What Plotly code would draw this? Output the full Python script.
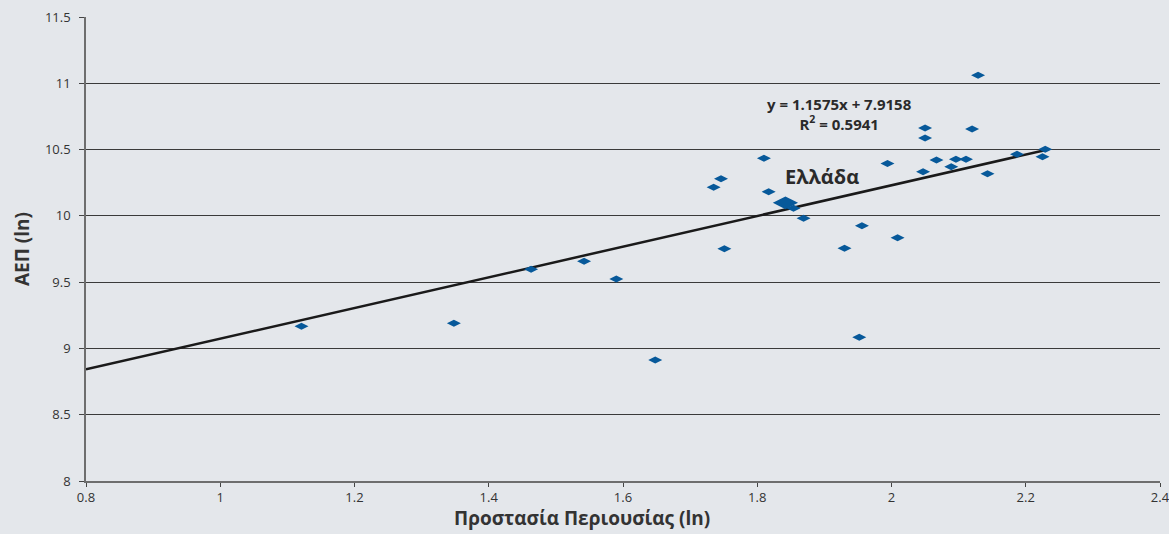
import plotly.graph_objects as go

# Data: property protection (ln) vs GDP (ln)
x_vals = [1.121, 1.348, 1.463, 1.542, 1.590, 1.648, 1.735, 1.746, 1.751, 1.810,
          1.817, 1.854, 1.869, 1.930, 1.952, 1.956, 1.994, 2.009, 2.047, 2.050,
          2.050, 2.067, 2.089, 2.096, 2.111, 2.120, 2.129, 2.143, 2.187, 2.225, 2.229]
y_vals = [9.167, 9.190, 9.597, 9.657, 9.524, 8.913, 10.215, 10.280, 9.752, 10.434,
          10.182, 10.057, 9.982, 9.755, 9.084, 9.926, 10.394, 9.835, 10.333, 10.663,
          10.587, 10.421, 10.371, 10.427, 10.427, 10.655, 11.060, 10.318, 10.464, 10.446, 10.502]

greece_x = [1.842]
greece_y = [10.098]
greece_label = "Ελλάδα"

slope = 1.1575
intercept = 7.9158
r2 = 0.5941
trend_x = [0.8, 2.23]
trend_y = [slope * v + intercept for v in trend_x]

x_ticks = [0.8, 1.0, 1.2, 1.4, 1.6, 1.8, 2.0, 2.2, 2.4]
y_ticks = [8, 8.5, 9, 9.5, 10, 10.5, 11, 11.5]

x_title = "Προστασία Περιουσίας (ln)"
y_title = "ΑΕΠ (ln)"

bg = "#e4e7eb"
marker_color = "#07599a"
font_family = "Open Sans, Noto Sans, sans-serif"

fig = go.Figure()

fig.add_trace(go.Scatter(
    x=trend_x, y=trend_y, mode="lines",
    line=dict(color="#1a1a1a", width=2.5),
    hoverinfo="skip", showlegend=False,
))

fig.add_trace(go.Scatter(
    x=x_vals, y=y_vals, mode="markers",
    marker=dict(symbol="diamond-wide", size=10, color=marker_color, line=dict(width=0)),
    showlegend=False,
))

fig.add_trace(go.Scatter(
    x=greece_x, y=greece_y, mode="markers",
    marker=dict(symbol="diamond-wide", size=18, color=marker_color, line=dict(width=0)),
    showlegend=False,
))

fig.add_annotation(
    x=greece_x[0], y=greece_y[0], xref="x", yref="y",
    text="<b>" + greece_label + "</b>", showarrow=False,
    xshift=-2, yshift=26, xanchor="left", yanchor="middle",
    font=dict(family=font_family, size=20, color="#2a2a2a"),
)

fig.add_annotation(
    x=1.923, y=10.768, xref="x", yref="y",
    text="<b>y = %.4fx + %.4f</b><br><b>R<sup>2</sup> = %.4f</b>" % (slope, intercept, r2),
    showarrow=False, align="center",
    font=dict(family=font_family, size=15, color="#2a2a2a"),
)

# axis titles
fig.add_annotation(
    x=0.4618, y=0, xref="paper", yref="paper",
    text="<b>" + x_title + "</b>", showarrow=False,
    xanchor="center", yanchor="middle", yshift=-37,
    font=dict(family=font_family, size=19, color="#333333"),
)
fig.add_annotation(
    x=0, y=0.5, xref="paper", yref="paper",
    text="<b>" + y_title + "</b>", showarrow=False, textangle=-90,
    xanchor="center", yanchor="middle", xshift=-64,
    font=dict(family=font_family, size=19, color="#333333"),
)

fig.update_layout(
    width=1169, height=534,
    paper_bgcolor=bg, plot_bgcolor=bg,
    margin=dict(l=86, r=9, t=17, b=53, autoexpand=False),
    font=dict(family=font_family, size=13, color="#333333"),
    xaxis=dict(
        range=[0.8, 2.4], tickvals=x_ticks,
        ticktext=[("%g" % v) for v in x_ticks],
        automargin=False, ticklabeloverflow="allow",
        showgrid=False, zeroline=False,
        showline=True, linecolor="#6e6e6e", linewidth=1.5,
        ticks="outside", ticklen=4, tickcolor="#444444",
        tickfont=dict(size=13, color="#333333"),
    ),
    yaxis=dict(
        range=[8, 11.5], tickvals=y_ticks,
        ticktext=[("%g" % v) for v in y_ticks],
        automargin=False, ticklabeloverflow="allow",
        showgrid=True, gridcolor="#3a3a3a", gridwidth=1,
        zeroline=False,
        showline=True, linecolor="#6e6e6e", linewidth=1.5,
        ticks="outside", ticklen=5, tickcolor="#444444",
        ticklabelstandoff=6,
        tickfont=dict(size=13, color="#333333"),
    ),
)

page_script = (
    "document.body.style.margin='0';"
    "document.body.style.overflow='hidden';"
    "document.body.style.background='" + bg + "';"
)

fig.write_html("out.html", post_script=page_script,
               config={"displayModeBar": False})
